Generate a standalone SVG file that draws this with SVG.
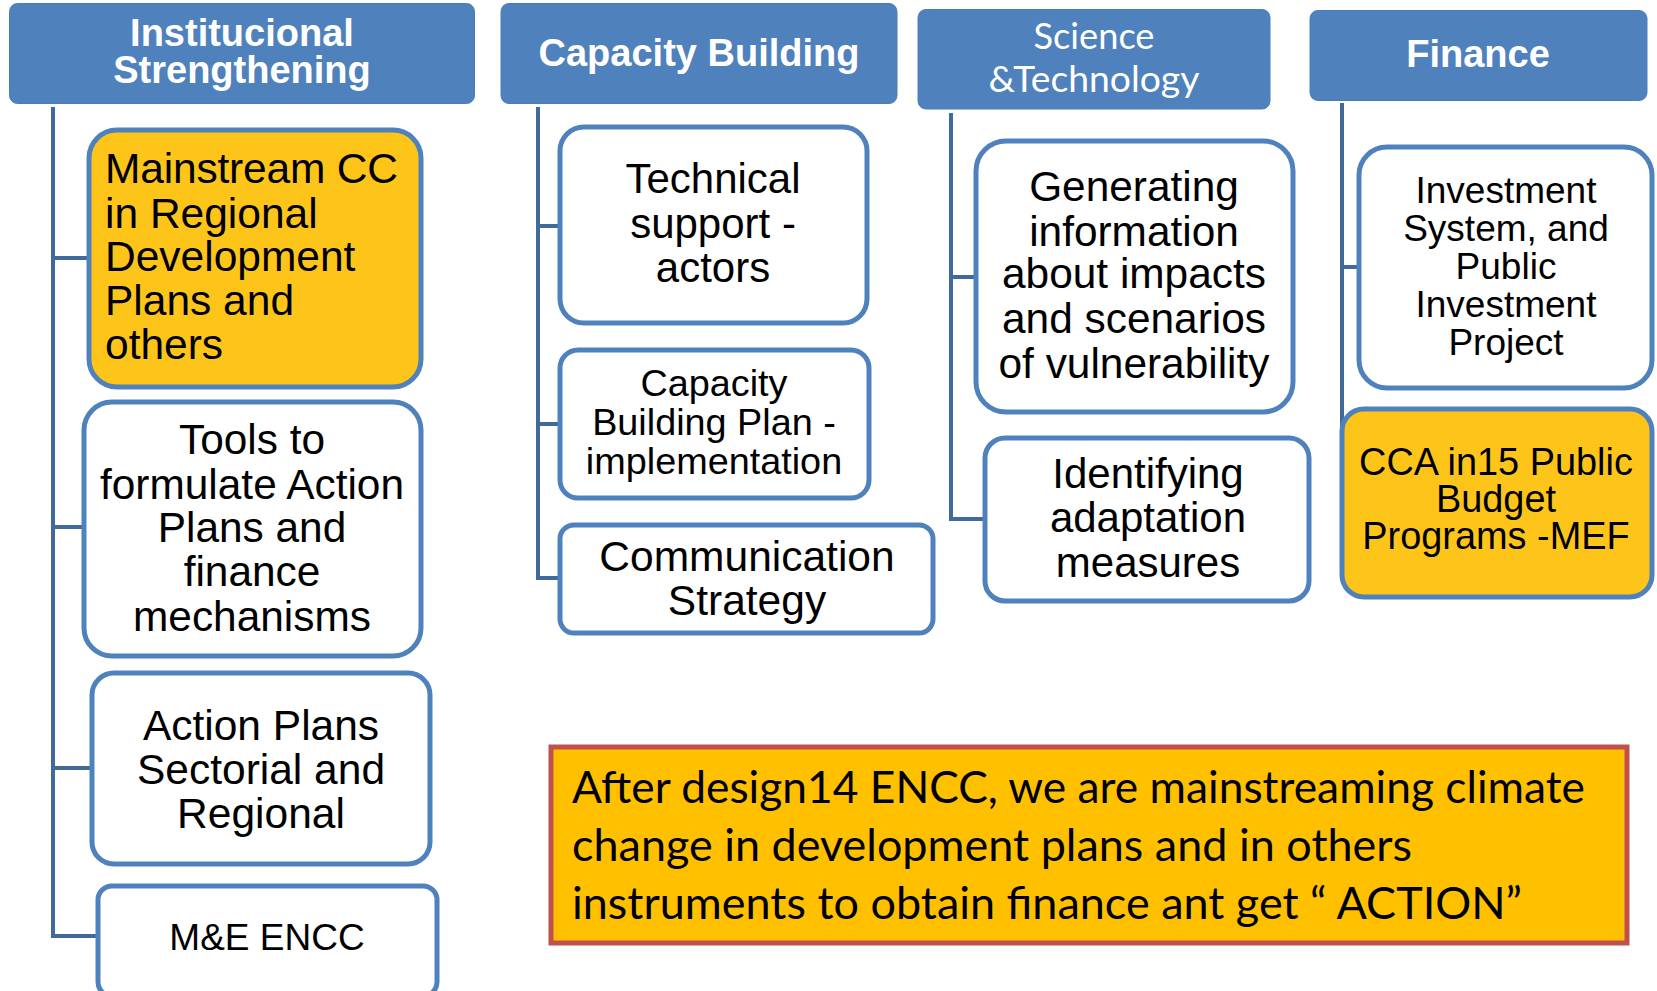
<svg xmlns="http://www.w3.org/2000/svg" width="1657" height="991" viewBox="0 0 1657 991">
<style>
.hdr{fill:#4F81BD;stroke:#4A7EBB;stroke-width:1}
.ht{font-family:"Liberation Sans",Arial,sans-serif;font-weight:bold;font-size:38px;fill:#fff;text-anchor:middle}
.hl{font-family:Lato,"Open Sans",sans-serif;font-size:36px;fill:#fff;text-anchor:middle}
.box{fill:#fff;stroke:#4F81BD;stroke-width:5}
.ybox{fill:#FDC51A;stroke:#4F81BD;stroke-width:5}
.t{font-family:"Liberation Sans",Arial,sans-serif;font-size:42px;fill:#000;text-anchor:middle}
.conn{stroke:#41699B;stroke-width:4;fill:none}
.note{font-family:Lato,"Open Sans",sans-serif;font-size:44px;fill:#000}
</style>
<rect width="1657" height="991" fill="#fff"/>
<g id="connectors">
<path class="conn" d="M53 107V938M51 936H98M53 258H89M53 527H84M53 768H92"/>
<path class="conn" d="M538 107V580M536 578H560M538 226H560M538 424H560"/>
<path class="conn" d="M951 113V521M949 519H985M951 277H976"/>
<path class="conn" d="M1342 103V450M1342 267H1359"/>
</g>
<g id="h-inst">
<rect class="hdr" x="9.5" y="3.5" width="465" height="100" rx="8"/>
<text class="ht" x="242" y="46">Institucional</text>
<text class="ht" x="242" y="83">Strengthening</text>
</g>
<g id="h-cap">
<rect class="hdr" x="501" y="3.5" width="396" height="100" rx="8"/>
<text class="ht" x="699" y="66">Capacity Building</text>
</g>
<g id="h-sci">
<rect class="hdr" x="918" y="9.5" width="352" height="99.5" rx="8"/>
<text class="hl" x="1094" y="49" textLength="121" lengthAdjust="spacingAndGlyphs">Science</text>
<text class="hl" x="1094" y="92" textLength="211" lengthAdjust="spacingAndGlyphs">&amp;Technology</text>
</g>
<g id="h-fin">
<rect class="hdr" x="1310" y="10.5" width="337" height="90" rx="8"/>
<text class="ht" x="1478" y="67">Finance</text>
</g>
<g id="n-mainstream">
<rect class="ybox" x="89" y="130" width="332" height="257" rx="28"/>
<g class="t" style="text-anchor:start;font-size:42.5px">
<text x="105" y="183" textLength="293" lengthAdjust="spacing">Mainstream CC</text>
<text x="105" y="228">in Regional</text>
<text x="105" y="271">Development</text>
<text x="105" y="315">Plans and</text>
<text x="105" y="359">others</text>
</g>
</g>
<g id="n-tools">
<rect class="box" x="84" y="402" width="337" height="254" rx="28"/>
<g class="t" style="font-size:42.4px">
<text x="252" y="454">Tools to</text>
<text x="252" y="499">formulate Action</text>
<text x="252" y="542">Plans and</text>
<text x="252" y="586">finance</text>
<text x="252" y="631">mechanisms</text>
</g>
</g>
<g id="n-action">
<rect class="box" x="92" y="673" width="338" height="191" rx="22"/>
<g class="t" style="font-size:42.5px">
<text x="261" y="740">Action Plans</text>
<text x="261" y="784">Sectorial and</text>
<text x="261" y="828">Regional</text>
</g>
</g>
<g id="n-me">
<rect class="box" x="98" y="886" width="339" height="110" rx="14"/>
<text class="t" x="267" y="950" style="font-size:37px">M&amp;E ENCC</text>
</g>
<g id="n-tech">
<rect class="box" x="560" y="127" width="307" height="196" rx="24"/>
<text class="t" x="713" y="193">Technical</text>
<text class="t" x="713" y="238">support -</text>
<text class="t" x="713" y="282">actors</text>
</g>
<g id="n-cbplan">
<rect class="box" x="560" y="350" width="309" height="148" rx="18"/>
<g class="t" style="font-size:37.8px">
<text x="714" y="396">Capacity</text>
<text x="714" y="435">Building Plan -</text>
<text x="714" y="474">implementation</text>
</g>
</g>
<g id="n-comm">
<rect class="box" x="560" y="525" width="373" height="108" rx="14"/>
<text class="t" x="747" y="571" style="font-size:42.5px">Communication</text>
<text class="t" x="747" y="615" style="font-size:42.5px">Strategy</text>
</g>
<g id="n-gen">
<rect class="box" x="976" y="141" width="317" height="271" rx="30"/>
<g class="t" style="font-size:42.4px">
<text x="1134" y="201">Generating</text>
<text x="1134" y="246">information</text>
<text x="1134" y="288">about impacts</text>
<text x="1134" y="333">and scenarios</text>
<text x="1134" y="378">of vulnerability</text>
</g>
</g>
<g id="n-ident">
<rect class="box" x="985" y="438" width="324" height="163" rx="20"/>
<g class="t" style="font-size:42px">
<text x="1148" y="488">Identifying</text>
<text x="1148" y="532">adaptation</text>
<text x="1148" y="577">measures</text>
</g>
</g>
<g id="n-invest">
<rect class="box" x="1359" y="147" width="293" height="241" rx="28"/>
<g class="t" style="font-size:37px">
<text x="1506" y="203">Investment</text>
<text x="1506" y="241">System, and</text>
<text x="1506" y="279">Public</text>
<text x="1506" y="317">Investment</text>
<text x="1506" y="355">Project</text>
</g>
</g>
<g id="n-cca">
<rect class="ybox" x="1342" y="409" width="310" height="188" rx="22"/>
<g class="t" style="font-size:37.9px">
<text x="1496" y="475">CCA in15 Public</text>
<text x="1496" y="512">Budget</text>
<text x="1496" y="549">Programs -MEF</text>
</g>
</g>
<g id="n-note">
<rect x="551" y="747" width="1076" height="196" fill="#FFC000" stroke="#C0504D" stroke-width="5"/>
<text class="note" x="572" y="803" textLength="1013" lengthAdjust="spacingAndGlyphs">After design14 ENCC, we are mainstreaming climate</text>
<text class="note" x="572" y="861" textLength="840" lengthAdjust="spacingAndGlyphs">change in development plans and in others</text>
<text class="note" x="572" y="919" textLength="950" lengthAdjust="spacingAndGlyphs">instruments to obtain finance ant get “ ACTION”</text>
</g>
</svg>
